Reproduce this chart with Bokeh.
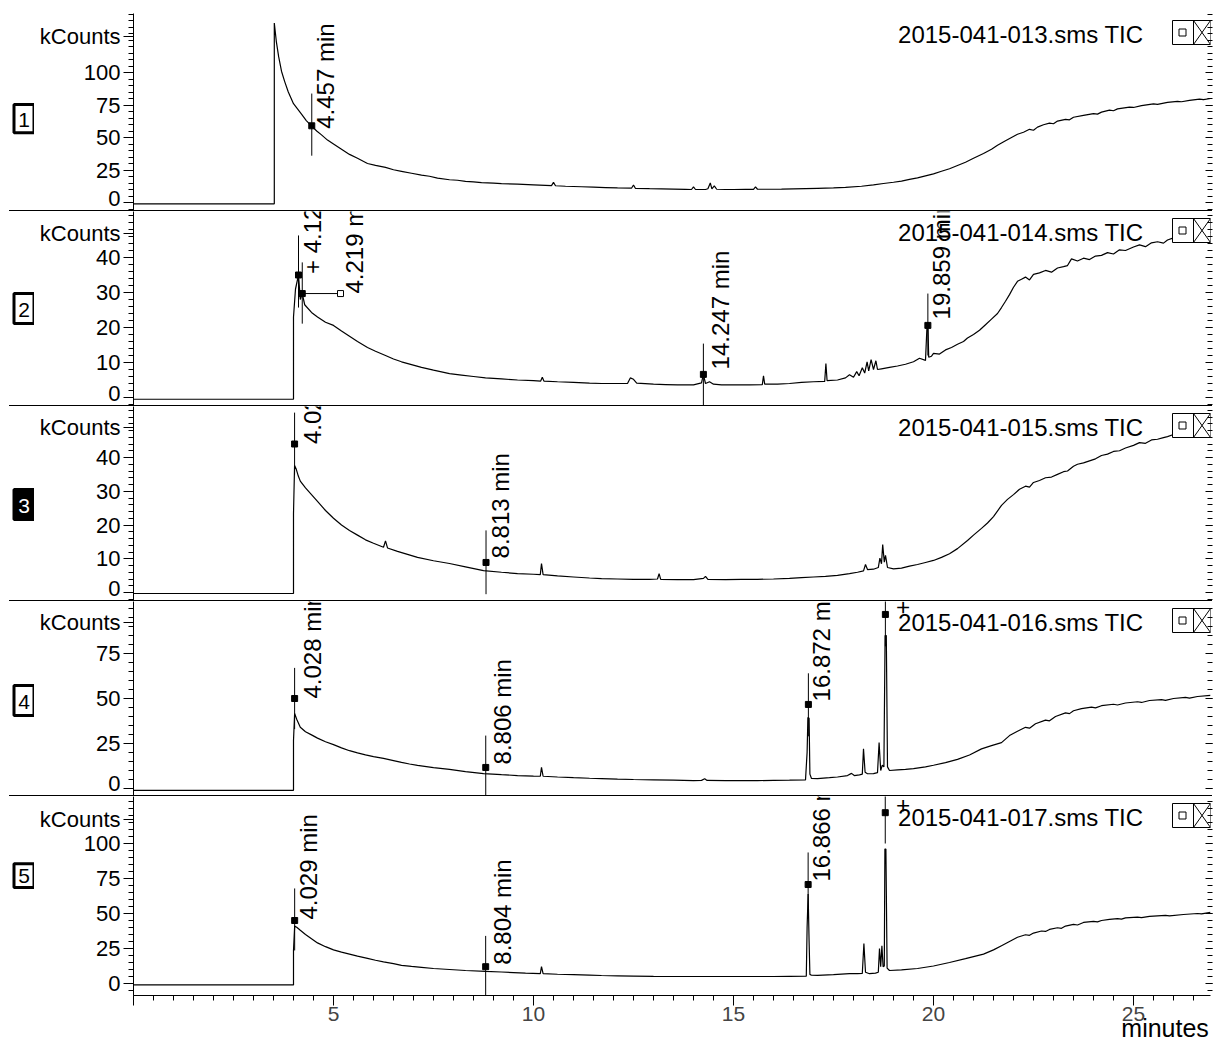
import numpy as np
from bokeh.plotting import figure
from bokeh.models import Range1d, FixedTicker, LinearAxis, ColumnDataSource, Div
from bokeh.layouts import column, row
from bokeh.embed import file_html
from bokeh.resources import INLINE
from bokeh.core.properties import value

FONT = "Liberation Sans"

# ---------------------------------------------------------------- data
run_names = ["2015-041-013.sms TIC", "2015-041-014.sms TIC", "2015-041-015.sms TIC",
             "2015-041-016.sms TIC", "2015-041-017.sms TIC"]
run_numbers = ["1", "2", "3", "4", "5"]

# total ion current traces: (minutes, kCounts)
trace_013 = [(0, -1), (3.52, -1), (3.52, 138), (3.57, 124), (3.63, 112), (3.7, 101), (3.78, 93),
             (3.87, 85), (4.0, 76), (4.1, 72), (4.2, 68), (4.32, 63), (4.45, 59), (4.58, 55), (4.7, 52),
             (4.85, 48), (5.0, 45), (5.2, 41), (5.4, 37), (5.6, 34), (5.85, 30), (6.05, 28.5), (6.3, 27),
             (6.5, 25.2), (6.7, 24), (6.95, 22.5), (7.2, 21), (7.4, 20.2), (7.6, 18.8), (7.9, 17.5),
             (8.1, 17.1), (8.3, 16.2), (8.5, 15.9), (8.7, 15.3), (9.0, 14.9), (9.2, 14.5), (9.6, 14.1),
             (10.0, 13.6), (10.3, 13.2), (10.45, 13), (10.5, 15.5), (10.55, 12.9), (10.8, 12.5),
             (11.2, 12.1), (11.5, 11.8), (11.8, 11.5), (12.1, 11.2), (12.45, 11), (12.5, 13.5),
             (12.55, 10.8), (12.9, 10.6), (13.2, 10.5), (13.5, 10.3), (13.8, 10.1), (13.95, 10),
             (14.0, 12), (14.05, 10), (14.3, 10), (14.36, 10.6), (14.42, 15), (14.46, 10.5), (14.52, 12.8),
             (14.58, 10.2), (14.8, 10), (15.0, 10), (15.3, 10.1), (15.5, 10.1), (15.55, 12), (15.6, 10.2),
             (15.9, 10.2), (16.2, 10.3), (16.5, 10.5), (16.8, 10.7), (17.1, 10.9), (17.5, 11.2),
             (17.8, 11.7), (18.2, 12.5), (18.5, 13.5), (18.75, 14.6), (19.0, 15.6), (19.2, 16.5),
             (19.4, 17.8), (19.6, 19), (19.8, 20.5), (20.0, 22), (20.2, 24), (20.4, 26), (20.6, 28.5),
             (20.8, 31), (21.0, 34), (21.25, 37.7), (21.45, 41), (21.6, 44), (21.8, 47.5), (21.95, 50),
             (22.1, 52.5), (22.25, 54), (22.4, 56.3), (22.5, 55.6), (22.6, 58), (22.75, 59.8), (22.9, 61),
             (23.0, 60.6), (23.1, 62.6), (23.3, 64), (23.4, 63.6), (23.5, 65.6), (23.75, 67), (24.0, 68.4),
             (24.1, 68), (24.2, 69.5), (24.4, 71), (24.5, 70.6), (24.6, 72), (24.9, 73.4), (25.0, 73.1),
             (25.2, 74.5), (25.5, 75.9), (25.6, 75.5), (25.85, 77), (26.1, 77.8), (26.2, 77.5),
             (26.4, 78.5), (26.65, 79.5), (26.75, 79.1), (26.925, 80)]

trace_014 = [(0, -0.5), (4.0, -0.5), (4.0, 23), (4.05, 31), (4.125, 35), (4.17, 28), (4.219, 29.7),
             (4.28, 26.5), (4.45, 24.3), (4.6, 23), (4.8, 21.5), (5.0, 20.6), (5.2, 19), (5.4, 17.5),
             (5.6, 16), (5.85, 14.3), (6.05, 13.2), (6.3, 12), (6.5, 11), (6.7, 10.2), (6.95, 9.4),
             (7.2, 8.6), (7.5, 7.8), (7.9, 6.8), (8.2, 6.4), (8.5, 6), (8.8, 5.6), (9.2, 5.3), (9.6, 5),
             (10.0, 4.8), (10.18, 4.7), (10.22, 5.8), (10.26, 4.7), (10.6, 4.5), (11.0, 4.3), (11.4, 4.1),
             (11.7, 4), (12.0, 4), (12.35, 4), (12.42, 5.6), (12.5, 5.2), (12.58, 4.1), (13.0, 3.8),
             (13.3, 3.7), (13.6, 3.6), (14.0, 3.6), (14.2, 4.2), (14.247, 6.6), (14.3, 4), (14.4, 4.5),
             (14.5, 3.8), (14.7, 3.6), (15.0, 3.6), (15.4, 3.6), (15.72, 3.7), (15.75, 6.2), (15.78, 3.8),
             (16.1, 3.8), (16.4, 4), (16.7, 4.3), (17.0, 4.5), (17.28, 4.6), (17.31, 9.7), (17.34, 4.8),
             (17.6, 5), (17.8, 5.6), (17.9, 6.5), (18.0, 5.8), (18.08, 7.4), (18.14, 6.2), (18.22, 8.5),
             (18.28, 7), (18.34, 10.2), (18.38, 7.6), (18.44, 10.8), (18.5, 8), (18.56, 10.5), (18.6, 8),
             (18.7, 8.2), (18.9, 8.6), (19.1, 9), (19.3, 9.5), (19.5, 10.2), (19.65, 11.2), (19.8, 10.6),
             (19.84, 21), (19.859, 21.5), (19.88, 11.5), (19.95, 11.8), (20.0, 12.6), (20.15, 12.4),
             (20.3, 13.6), (20.45, 14.3), (20.6, 15.2), (20.75, 16), (20.85, 17), (21.0, 18), (21.15, 19.2),
             (21.3, 20.8), (21.45, 22.4), (21.6, 24), (21.7, 25.7), (21.8, 27.5), (21.9, 29.4), (22.0, 31.5),
             (22.1, 33.2), (22.2, 33.8), (22.3, 34.4), (22.4, 33.6), (22.5, 35.2), (22.65, 35.6),
             (22.8, 36.3), (22.95, 35.8), (23.1, 37), (23.25, 37.4), (23.35, 37.7), (23.45, 39.6),
             (23.6, 39), (23.75, 39.8), (23.9, 39.4), (24.05, 40.4), (24.2, 40.6), (24.35, 41.4),
             (24.5, 41), (24.65, 42.2), (24.8, 42), (25.0, 43), (25.15, 43.6), (25.3, 43.1), (25.45, 44.2),
             (25.6, 44.5), (25.75, 44.1), (25.85, 45), (26.0, 45.6), (26.15, 45.2), (26.3, 46.2),
             (26.45, 46), (26.6, 46.8), (26.75, 46.5), (26.925, 47.2)]

trace_015 = [(0, -0.3), (4.0, -0.3), (4.0, 23.4), (4.027, 37.6), (4.07, 36.5), (4.12, 34.5), (4.17, 33),
             (4.3, 31), (4.45, 29), (4.6, 27), (4.8, 24.3), (5.0, 22), (5.2, 20), (5.4, 18.4), (5.6, 17),
             (5.8, 15.6), (6.0, 14.6), (6.25, 13.4), (6.3, 15.3), (6.35, 13.2), (6.6, 12.2), (6.85, 11.3),
             (7.1, 10.4), (7.5, 9.4), (7.9, 8.6), (8.3, 7.6), (8.75, 6.5), (9.2, 6), (9.6, 5.6), (10.0, 5.4),
             (10.17, 5.3), (10.2, 8.6), (10.24, 5.3), (10.6, 4.9), (11.0, 4.6), (11.4, 4.3), (11.7, 4.1),
             (12.1, 4), (12.5, 3.9), (12.9, 3.9), (13.1, 4), (13.14, 5.6), (13.18, 3.9), (13.6, 3.8),
             (14.0, 3.8), (14.25, 4.2), (14.3, 4.8), (14.36, 3.9), (14.8, 3.8), (15.2, 3.9), (15.6, 3.9),
             (16.0, 4.0), (16.4, 4.2), (16.7, 4.4), (17.0, 4.6), (17.3, 4.8), (17.6, 5.1), (17.9, 5.6),
             (18.1, 6), (18.25, 6.4), (18.3, 8.3), (18.35, 6.8), (18.5, 6.9), (18.62, 7.4), (18.66, 10.2),
             (18.7, 8.5), (18.73, 14.2), (18.77, 9), (18.8, 11), (18.85, 7.4), (19.0, 7), (19.2, 7.2),
             (19.4, 7.8), (19.6, 8.3), (19.8, 8.9), (20.0, 9.5), (20.2, 10.4), (20.4, 11.5), (20.6, 13),
             (20.85, 15.4), (21.0, 17), (21.2, 19), (21.35, 20.6), (21.5, 22.5), (21.7, 25.8), (21.85, 27.6),
             (22.0, 29), (22.15, 30.6), (22.3, 31.5), (22.4, 31.2), (22.5, 32.6), (22.65, 33.2), (22.8, 34),
             (22.95, 34.2), (23.1, 35), (23.25, 35.8), (23.35, 36), (23.5, 37.4), (23.6, 38), (23.75, 38.4),
             (23.9, 39), (24.05, 39.6), (24.2, 40.6), (24.35, 41), (24.5, 41.8), (24.65, 42), (24.8, 42.8),
             (25.0, 43.6), (25.15, 44.4), (25.3, 44.2), (25.45, 45.2), (25.6, 45.4), (25.75, 45.9),
             (25.85, 46.2), (26.0, 46.8), (26.15, 46.6), (26.3, 47.5), (26.45, 47.8), (26.6, 48.4),
             (26.75, 48.6), (26.925, 49.5)]

trace_016 = [(0, -1), (4.0, -1), (4.0, 26.7), (4.028, 41.7), (4.08, 38.5), (4.17, 34), (4.3, 31.5),
             (4.45, 29.8), (4.6, 28), (4.8, 26), (5.0, 24.4), (5.2, 22.6), (5.4, 21), (5.6, 19.8),
             (5.8, 18.7), (6.0, 17.7), (6.25, 16.7), (6.5, 15.5), (6.7, 14.5), (6.9, 13.6), (7.1, 12.8),
             (7.5, 11.6), (7.9, 10.6), (8.3, 9.4), (8.75, 8.3), (9.2, 7.7), (9.6, 7.2), (10.0, 6.9),
             (10.17, 6.8), (10.2, 11.7), (10.24, 6.8), (10.6, 6.4), (11.0, 6), (11.4, 5.7), (11.7, 5.5),
             (12.1, 5.2), (12.5, 5), (13.0, 4.8), (13.5, 4.6), (14.0, 4.4), (14.2, 4.5), (14.28, 5.4),
             (14.34, 4.5), (14.8, 4.4), (15.2, 4.4), (15.6, 4.4), (16.0, 4.5), (16.4, 4.6), (16.8, 4.8),
             (16.84, 20), (16.86, 39.4), (16.89, 39), (16.91, 8), (16.95, 5.6), (17.1, 5.5), (17.4, 6),
             (17.6, 6.4), (17.85, 7.2), (17.95, 8.4), (18.02, 7.2), (18.15, 7.6), (18.22, 8), (18.25, 22),
             (18.29, 9), (18.35, 8.2), (18.5, 8.3), (18.6, 8.8), (18.64, 25.5), (18.68, 10), (18.72, 13),
             (18.76, 12), (18.79, 85), (18.82, 85), (18.85, 12), (18.9, 10), (19.1, 10.3), (19.3, 10.6),
             (19.5, 11), (19.8, 12), (20.0, 12.9), (20.3, 14.4), (20.6, 16.2), (20.9, 18.6), (21.2, 22),
             (21.45, 23.8), (21.7, 25.5), (21.9, 29.4), (22.1, 31.8), (22.3, 34), (22.4, 33.5), (22.55, 36),
             (22.8, 38), (22.9, 37.6), (23.05, 40), (23.3, 42), (23.4, 41.6), (23.5, 43.2), (23.7, 44.4),
             (23.95, 45.2), (24.05, 44.8), (24.2, 46), (24.5, 46.8), (24.6, 46.4), (24.8, 47.5),
             (25.1, 48.2), (25.2, 47.8), (25.4, 48.9), (25.7, 49.4), (25.8, 49), (26.0, 50), (26.3, 50.6),
             (26.4, 50.2), (26.6, 51.1), (26.925, 51.7)]

trace_017 = [(0, -1), (4.0, -1), (4.0, 23.6), (4.029, 41), (4.08, 40.2), (4.17, 38), (4.3, 35), (4.45, 32),
             (4.6, 29), (4.8, 26.3), (5.0, 24), (5.2, 22.4), (5.4, 21), (5.6, 19.6), (5.85, 18), (6.05, 16.6),
             (6.25, 15.5), (6.5, 14.2), (6.7, 13), (6.95, 12.2), (7.2, 11.5), (7.5, 10.7), (7.9, 10),
             (8.3, 9.3), (8.8, 8.6), (9.2, 8.2), (9.5, 7.8), (9.8, 7.4), (10.17, 7), (10.2, 12), (10.24, 7),
             (10.6, 6.6), (11.0, 6.3), (11.4, 6), (11.7, 5.7), (12.1, 5.5), (12.5, 5.3), (13.0, 5.1),
             (13.5, 5), (14.0, 5), (14.5, 5), (15.0, 5), (15.5, 5), (16.0, 5), (16.4, 5.1), (16.82, 5.2),
             (16.84, 40), (16.866, 64), (16.89, 30), (16.91, 6.5), (16.95, 5.9), (17.1, 5.8), (17.5, 6.3),
             (17.9, 7), (18.1, 7.1), (18.22, 7.2), (18.26, 28.6), (18.3, 8), (18.4, 7), (18.55, 7.4),
             (18.62, 8), (18.65, 25), (18.68, 12), (18.71, 27), (18.74, 12), (18.77, 12.5), (18.785, 96),
             (18.81, 96), (18.84, 11), (18.9, 9.3), (19.2, 9.8), (19.6, 10.7), (20.0, 12.5), (20.4, 15),
             (20.8, 17.8), (21.25, 21), (21.5, 24), (21.7, 27), (21.9, 30), (22.1, 33), (22.3, 34.8),
             (22.4, 34.4), (22.5, 36), (22.7, 37.5), (22.8, 37.2), (22.9, 38.6), (23.1, 39.8), (23.2, 39.4),
             (23.3, 41), (23.5, 42.2), (23.6, 41.8), (23.75, 43.6), (24.0, 44.4), (24.1, 44), (24.2, 45),
             (24.4, 45.8), (24.6, 46.4), (24.7, 46), (24.8, 46.9), (25.1, 47.4), (25.2, 47.1), (25.4, 48),
             (25.8, 48.6), (25.9, 48.3), (26.25, 49.3), (26.6, 50), (26.7, 49.7), (26.925, 50.8)]

# integrated peaks: retention time (min), apex (kCounts), marker bar extent, label prefix
peaks_013 = dict(t=[4.457], apex=[59.0], lo=[36.0], hi=[83.8], tag=[""])
peaks_014 = dict(t=[4.125, 4.219, 14.247, 19.859], apex=[35.0, 29.7, 6.6, 20.6],
                 lo=[25.7, 21.1, -2.6, 12.0], hi=[46.3, 38.6, 15.4, 29.7], tag=["+ ", "", "", ""])
peaks_015 = dict(t=[4.027, 8.813], apex=[44.0, 8.9], lo=[35.0, -0.5], hi=[53.3, 18.4], tag=["", ""])
peaks_016 = dict(t=[4.028, 8.806, 16.872, 18.797], apex=[50.0, 11.7, 46.7, 96.7],
                 lo=[33.0, -5.0, 29.0, 79.0], hi=[67.0, 29.4, 64.0, 114.0], tag=["", "", "", "+ "])
peaks_017 = dict(t=[4.029, 8.804, 16.866, 18.794], apex=[45.0, 12.0, 70.7, 122.0],
                 lo=[23.6, -10.0, 49.0, 100.0], hi=[67.9, 34.0, 93.6, 144.0], tag=["", "", "", "+ "])

# the 4.219 min label in run 014 is moved aside with a leader line to this time
callout_014 = dict(peak=1, t=5.175)

# y tick values per run
yticks = [[0, 25, 50, 75, 100], [0, 10, 20, 30, 40], [0, 10, 20, 30, 40], [0, 25, 50, 75], [0, 25, 50, 75, 100]]
yminor_step = [5, 2, 2, 5, 5]
xticks = [0, 5, 10, 15, 20, 25]
x_unit = "minutes"

# ---------------------------------------------------------------- layout
PX_PER_MIN = 40.0
X_START, X_END = 0.0, 26.925
GUTTER = 34          # column holding the run number boxes
LEFT = 133 - GUTTER  # room for the y axis of each trace
RIGHT = 6
UNIT_AT = 25.79      # where the unit caption sits under the time axis

# per panel: figure height, top border, frame height, zero line (px below frame top),
# px per kCount, value of the "kCounts" caption, number box centre (px from figure top)
geom = [
    dict(fig_h=210, top=13, fh=197, zero=189, ppu=1.30, kc=128, box=112),
    dict(fig_h=194, top=0, fh=194, zero=186, ppu=3.50, kc=47, box=97),
    dict(fig_h=194, top=0, fh=194, zero=186, ppu=3.375, kc=49, box=98),
    dict(fig_h=194, top=0, fh=194, zero=187, ppu=1.80, kc=92, box=99),
    dict(fig_h=249, top=0, fh=199, zero=187, ppu=1.40, kc=117, box=99),
]
# peak label nudges in px (right, down)
label_dx = [[0], [0, 0, 4, 0], [4, 1], [4, 3, 0, 4], [0, 3, 0, 4]]
label_dy = [[3], [-1, 0, -5, -6], [0, -4], [0, -3, -3, 0], [-1, -2, -3, 0]]

traces = [trace_013, trace_014, trace_015, trace_016, trace_017]
peaks = [peaks_013, peaks_014, peaks_015, peaks_016, peaks_017]

x_range = Range1d(X_START, X_END)


def separator():
    return Div(text="", width=1203, height=1, margin=(0, 4, 0, 9),
               styles={"background-color": "black", "overflow": "hidden"})


def number_box(i):
    g = geom[i]
    h = g["fig_h"]
    # pixel-based ranges: y grows downwards from the top of the row
    q = figure(width=GUTTER, height=h, x_range=Range1d(0, GUTTER), y_range=Range1d(h, 0),
               x_axis_location=None, y_axis_location=None, toolbar_location=None,
               output_backend="svg", tools="", min_border_left=0, min_border_right=0,
               min_border_top=0, min_border_bottom=0, outline_line_color=None,
               background_fill_color="white", border_fill_color="white")
    q.grid.visible = False
    dark = i == 2
    q.rect(x=[23.5], y=[g["box"]], width=20, height=30, fill_color="black" if dark else "white",
           line_color="black", line_width=3)
    q.text(x=[23.5], y=[g["box"] + 1], text=[run_numbers[i]], text_align="center",
           text_baseline="middle", text_font=value(FONT), text_font_size=value("21px"),
           text_color="white" if dark else "black")
    return q


def panel(i):
    g = geom[i]
    ppu = g["ppu"]
    y_end = g["zero"] / ppu
    y_start = -(g["fh"] - g["zero"]) / ppu
    last = i == 4
    p = figure(width=1216 - GUTTER, height=g["fig_h"], x_range=x_range, y_range=Range1d(y_start, y_end),
               x_axis_location="below" if last else None, y_axis_location="left",
               toolbar_location=None, output_backend="svg", tools="",
               min_border_left=LEFT, min_border_right=RIGHT, min_border_top=g["top"],
               min_border_bottom=50 if last else 0,
               background_fill_color="white", border_fill_color="white", outline_line_color=None)
    p.grid.visible = False

    step = yminor_step[i]
    minor = list(np.arange(-10, y_end + step, step))
    ax = p.yaxis[0]
    ax.ticker = FixedTicker(ticks=yticks[i] + [g["kc"]], minor_ticks=minor)
    ax.major_label_overrides = {g["kc"]: "kCounts"}
    ax.major_label_text_font = FONT
    ax.major_label_text_font_size = "22px"
    ax.major_label_text_color = "black"
    ax.major_label_standoff = 3
    ax.axis_line_color = "black"
    ax.major_tick_in = 0
    ax.major_tick_out = 10
    ax.minor_tick_in = 0
    ax.minor_tick_out = 5
    ax.major_tick_line_color = "black"
    ax.minor_tick_line_color = "black"

    # tick marks only along the right edge
    rax = LinearAxis(ticker=FixedTicker(ticks=yticks[i], minor_ticks=minor),
                     major_label_overrides={t: "" for t in yticks[i]},
                     axis_line_color=None, major_label_standoff=0,
                     major_tick_in=5, major_tick_out=2, minor_tick_in=3, minor_tick_out=2,
                     major_tick_line_color="black", minor_tick_line_color="black")
    p.add_layout(rax, "right")

    if last:
        xa = p.xaxis[0]
        xa.ticker = FixedTicker(ticks=xticks, minor_ticks=list(np.arange(0, 27, 0.5)))
        xa.major_label_overrides = {0: ""}
        xa.major_label_text_font = FONT
        xa.major_label_text_font_size = "21px"
        xa.major_label_standoff = 1
        xa.axis_line_color = "black"
        xa.major_tick_in = 0
        xa.major_tick_out = 10
        xa.minor_tick_in = 0
        xa.minor_tick_out = 5
        # unit caption under the right end of the time axis
        ua = LinearAxis(ticker=FixedTicker(ticks=[UNIT_AT]), major_label_overrides={UNIT_AT: x_unit},
                        axis_line_color=None, major_tick_in=0, major_tick_out=0,
                        major_label_standoff=-10, major_label_text_font=FONT,
                        major_label_text_font_size="25px", major_label_text_color="black")
        p.add_layout(ua, "below")

    # trace
    tt, vv = zip(*traces[i])
    p.line(list(tt), list(vv), line_color="black", line_width=1.2)

    # peak markers
    pk = peaks[i]
    p.segment(x0=pk["t"], y0=pk["lo"], x1=pk["t"], y1=pk["hi"], line_color="black", line_width=1)
    p.scatter(pk["t"], pk["apex"], marker="square", size=6, fill_color="black", line_color="black")

    lx, ly, txt = [], [], []
    for j, t in enumerate(pk["t"]):
        anchor_t = t
        if i == 1 and j == callout_014["peak"]:
            anchor_t = callout_014["t"]
            p.segment(x0=[t], y0=[pk["apex"][j]], x1=[anchor_t], y1=[pk["apex"][j]], line_color="black")
            p.scatter([anchor_t], [pk["apex"][j]], marker="square", size=6,
                      fill_color="white", line_color="black")
        lx.append(anchor_t + label_dx[i][j] / PX_PER_MIN)
        ly.append(pk["apex"][j] - label_dy[i][j] / ppu)
        txt.append(f"{pk['tag'][j]}{t:.3f} min")
    src = ColumnDataSource(dict(x=lx, y=ly, text=txt))
    p.text(x="x", y="y", text="text", source=src, angle=np.pi / 2, text_align="left",
           text_baseline="top", text_font=value(FONT), text_font_size=value("24px"), text_color="black")

    # run name
    p.text(x=[X_END - 67 / PX_PER_MIN], y=[y_end - 21 / ppu], text=[run_names[i]], text_align="right",
           text_baseline="middle", text_font=value(FONT), text_font_size=value("24px"), text_color="black")

    # window buttons in the corner of each trace
    b_top, b_bot = y_end - 7 / ppu, y_end - 31 / ppu
    b_left, b_mid = X_END - 38 / PX_PER_MIN, X_END - 17 / PX_PER_MIN
    p.quad(left=[b_left], right=[X_END], top=[b_top], bottom=[b_bot], fill_color="white",
           line_color="black", line_width=1)
    p.segment(x0=[b_mid, b_mid, b_mid], y0=[b_top, b_top, b_bot], x1=[b_mid, X_END, X_END],
              y1=[b_bot, b_bot, b_top], line_color="black", line_width=1)
    p.scatter([X_END - 28 / PX_PER_MIN], [y_end - 19 / ppu], marker="square", size=7,
              fill_color=None, line_color="black")
    return p


rows = []
for k in range(5):
    if k > 0:
        rows.append(separator())
    rows.append(row(number_box(k), panel(k), spacing=0))

layout = column(*rows, spacing=0)
open("out.html", "w").write(file_html(layout, INLINE))
